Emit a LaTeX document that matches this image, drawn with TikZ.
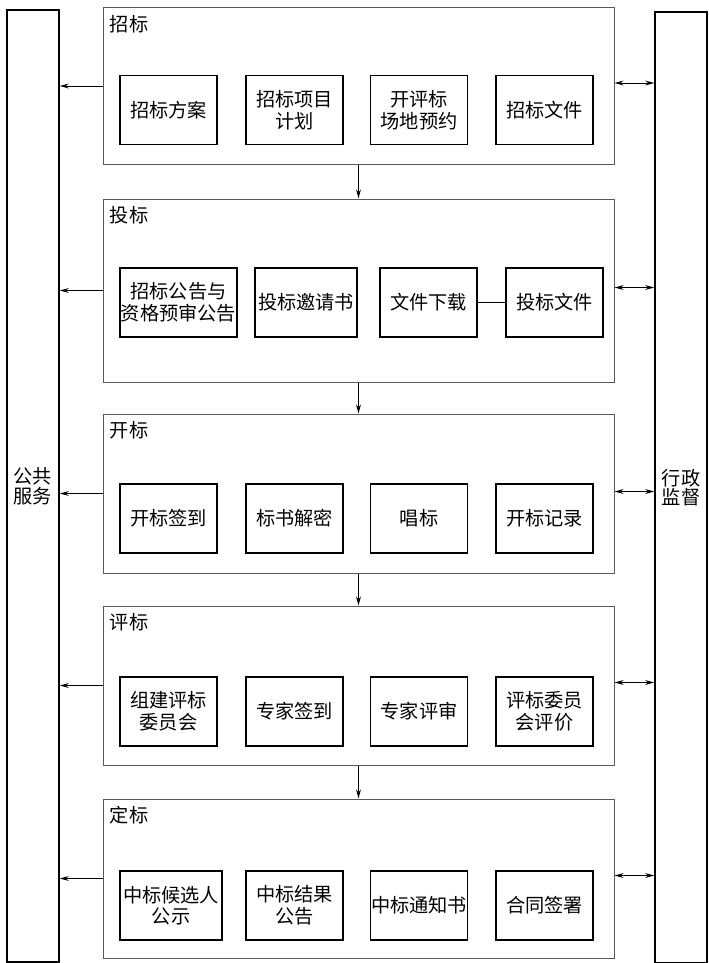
\documentclass[tikz,border=0pt]{standalone}
\usepackage{fontspec}
\setmainfont{Noto Sans CJK SC}
\usetikzlibrary{arrows.meta, positioning}

\begin{document}
\begin{tikzpicture}[x=0.5pt, y=-0.5pt,
  stage/.style={draw=black!65, line width=0.5pt, minimum width=255.5pt, inner sep=0pt},
  stitle/.style={anchor=west, inner sep=0pt, font=\fontsize{9.6}{10.8}\selectfont},
  item/.style={draw, line width=0.75pt, minimum width=48.5pt, minimum height=34.5pt, inner sep=0pt, align=center, font=\fontsize{9.6}{10.8}\selectfont},
  side/.style={draw, line width=0.75pt, minimum width=26pt, inner sep=0pt, align=center, font=\fontsize{9.6}{9.8}\selectfont},
  toleft/.style={-{Stealth[length=4.5pt,width=2.4pt]}, line width=0.45pt},
  both/.style={{Stealth[length=4.5pt,width=2.4pt]}-{Stealth[length=4.5pt,width=2.4pt]}, line width=0.45pt}
]
  \useasboundingbox (0,0) rectangle (708,963);

  \node[side, minimum height=476pt] (pub) at (33,486) {公共\\服务};
  \node[side, minimum height=475.5pt] (adm) at (681,487.5) {行政\\监督};

  \node[stage, minimum height=78pt] (s1) at (358.5,86) {};
  \node[stage, minimum height=91.5pt] (s2) at (358.5,290.5) {};
  \node[stage, minimum height=79.5pt] (s3) at (358.5,493.5) {};
  \node[stage, minimum height=79.5pt] (s4) at (358.5,685.5) {};
  \node[stage, minimum height=79.5pt] (s5) at (358.5,878.5) {};

  \node[stitle] (t1) at ([xshift=3.5pt,yshift=-8.5pt]s1.north west) {招标};
  \node[stitle] (t2) at ([xshift=3.5pt,yshift=-8.5pt]s2.north west) {投标};
  \node[stitle] (t3) at ([xshift=3.5pt,yshift=-8.5pt]s3.north west) {开标};
  \node[stitle] (t4) at ([xshift=3.5pt,yshift=-8.5pt]s4.north west) {评标};
  \node[stitle] (t5) at ([xshift=3.5pt,yshift=-8.5pt]s5.north west) {定标};

  \node[item] (a1) at (168.5,110) {招标方案};
  \node[item] (a2) at (294.5,110) {招标项目\\计划};
  \node[item] (a3) at (419,110) {开评标\\场地预约};
  \node[item] (a4) at (544.5,110) {招标文件};

  \node[item, minimum width=58.5pt] (b1) at (178.5,302.5) {招标公告与\\资格预审公告};
  \node[item, minimum width=51pt] (b2) at (306,302.5) {投标邀请书};
  \node[item] (b3) at (428.5,302.5) {文件下载};
  \node[item] (b4) at (554.5,302.5) {投标文件};

  \node[item] (c1) at (168.5,518.5) {开标签到};
  \node[item] (c2) at (294.5,518.5) {标书解密};
  \node[item] (c3) at (419,518.5) {唱标};
  \node[item] (c4) at (544.5,518.5) {开标记录};

  \node[item] (d1) at (168.5,711.5) {组建评标\\委员会};
  \node[item] (d2) at (294.5,711.5) {专家签到};
  \node[item] (d3) at (419,711.5) {专家评审};
  \node[item] (d4) at (544.5,711.5) {评标委员\\会评价};

  \node[item, minimum width=51pt] (e1) at (171,905.5) {中标候选人\\公示};
  \node[item] (e2) at (294.5,905.5) {中标结果\\公告};
  \node[item] (e3) at (419,905.5) {中标通知书};
  \node[item] (e4) at (544.5,905.5) {合同签署};

  \draw[line width=0.5pt] (b3) -- (b4);

  \draw[toleft] (s1) -- (s2);
  \draw[toleft] (s2) -- (s3);
  \draw[toleft] (s3) -- (s4);
  \draw[toleft] (s4) -- (s5);

  \draw[toleft] (s1.west) -- (s1.west -| pub.east);
  \draw[toleft] (s2.west) -- (s2.west -| pub.east);
  \draw[toleft] (s3.west) -- (s3.west -| pub.east);
  \draw[toleft] (s4.west) -- (s4.west -| pub.east);
  \draw[toleft] (s5.west) -- (s5.west -| pub.east);

  \draw[both] ([yshift=1.5pt]s1.east) -- ([yshift=1.5pt]s1.east -| adm.west);
  \draw[both] ([yshift=1.5pt]s2.east) -- ([yshift=1.5pt]s2.east -| adm.west);
  \draw[both] ([yshift=1pt]s3.east) -- ([yshift=1pt]s3.east -| adm.west);
  \draw[both] ([yshift=1.5pt]s4.east) -- ([yshift=1.5pt]s4.east -| adm.west);
  \draw[both] ([yshift=1.5pt]s5.east) -- ([yshift=1.5pt]s5.east -| adm.west);
\end{tikzpicture}
\end{document}
